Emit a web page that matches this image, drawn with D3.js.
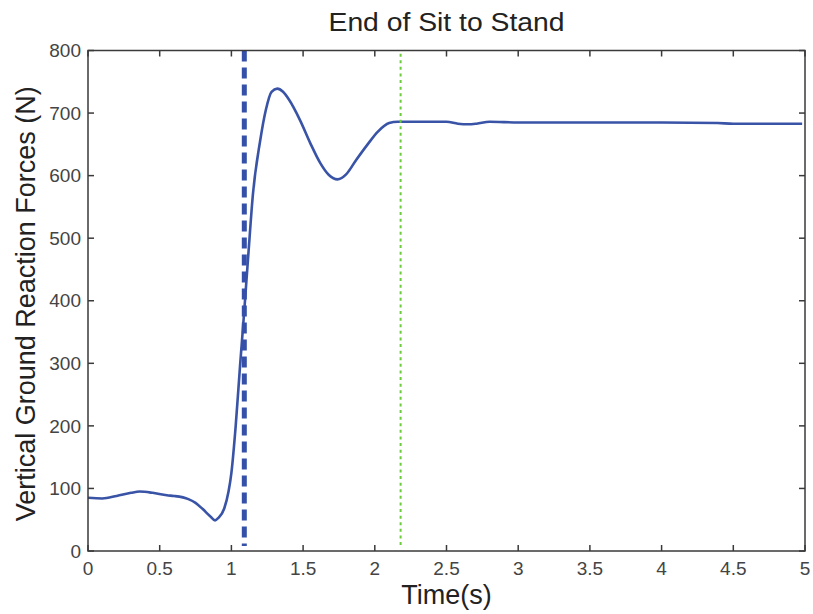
<!DOCTYPE html>
<html>
<head>
<meta charset="utf-8">
<script src="https://cdn.jsdelivr.net/npm/d3@7"></script>
<style>
  body { margin: 0; background: #fff; }
  text { font-family: Arial, "Liberation Sans", Helvetica, sans-serif; }
</style>
</head>
<body>
<div id="chart"></div>
<script>
// Vertical ground reaction force trace
const timeSec = [0, 0.1, 0.2, 0.3, 0.36, 0.45, 0.55, 0.6, 0.7, 0.75, 0.8, 0.85, 0.886, 0.91, 0.95,
    0.98, 1.0, 1.03, 1.06, 1.09, 1.12, 1.15, 1.2, 1.24, 1.28, 1.32, 1.36, 1.4, 1.48,
    1.55, 1.62, 1.68, 1.74, 1.8, 1.87, 1.95, 2.02, 2.1, 2.16, 2.5, 2.58, 2.65, 2.71, 2.8,
    3.0, 3.5, 4.0, 4.39, 4.5, 4.98];
const forceN = [85, 84, 88, 93, 95, 93, 89, 88, 83, 77, 67, 56, 49, 53, 68,
    95, 125, 200, 295, 385, 480, 570, 655, 705, 734, 739, 734, 722, 688,
    652, 620, 601, 594, 602, 625, 650, 670, 684, 686, 686, 683, 682, 683, 686,
    685, 685, 685, 684, 683, 683];

// event markers
const seatOffTime = 1.09;   // dashed blue
const standEndTime = 2.18;  // dotted green

const xTicks = [0, 0.5, 1, 1.5, 2, 2.5, 3, 3.5, 4, 4.5, 5];
const yTicks = [0, 100, 200, 300, 400, 500, 600, 700, 800];

const width = 813, height = 614;
const margin = {left: 88, right: 8, top: 50.5, bottom: 63};

const svg = d3.select("#chart").append("svg")
    .attr("width", width)
    .attr("height", height);

const x = d3.scaleLinear().domain([0, 5]).range([margin.left, width - margin.right]);
const y = d3.scaleLinear().domain([0, 800]).range([height - margin.bottom, margin.top]);

const axisColor = "#3a3a3a";
const labelColor = "#444";

// Title
svg.append("text")
    .attr("x", (x(0) + x(5)) / 2)
    .attr("y", 31)
    .attr("text-anchor", "middle")
    .attr("textLength", 236)
    .attr("lengthAdjust", "spacingAndGlyphs")
    .style("font-size", "26px")
    .style("fill", "#222")
    .text("End of Sit to Stand");

// Data line
const line = d3.line()
    .x((d, i) => x(timeSec[i]))
    .y(d => y(d))
    .curve(d3.curveMonotoneX);

svg.append("path")
    .datum(forceN)
    .attr("d", line)
    .attr("fill", "none")
    .attr("stroke", "#3953a6")
    .attr("stroke-width", 2.6);

// Event lines
svg.append("line")
    .attr("x1", x(seatOffTime)).attr("x2", x(seatOffTime))
    .attr("y1", y(800)).attr("y2", y(8))
    .attr("stroke", "#3550a8")
    .attr("stroke-width", 5)
    .attr("stroke-dasharray", "11,6");

svg.append("line")
    .attr("x1", x(standEndTime)).attr("x2", x(standEndTime))
    .attr("y1", y(795)).attr("y2", y(4))
    .attr("stroke", "#6ccb3a")
    .attr("stroke-width", 2)
    .attr("stroke-dasharray", "3,3.6");

// Box and ticks (MATLAB style, ticks pointing inward on all four sides)
const tickLen = 6;
const axes = svg.append("g")
    .attr("stroke", axisColor)
    .attr("stroke-width", 1.5);

axes.append("rect")
    .attr("x", x(0)).attr("y", y(800))
    .attr("width", x(5) - x(0)).attr("height", y(0) - y(800))
    .attr("fill", "none");

xTicks.forEach(t => {
    axes.append("line")
        .attr("x1", x(t)).attr("x2", x(t))
        .attr("y1", y(0)).attr("y2", y(0) - tickLen);
    axes.append("line")
        .attr("x1", x(t)).attr("x2", x(t))
        .attr("y1", y(800)).attr("y2", y(800) + tickLen);
});
yTicks.forEach(v => {
    axes.append("line")
        .attr("x1", x(0)).attr("x2", x(0) + tickLen)
        .attr("y1", y(v)).attr("y2", y(v));
    axes.append("line")
        .attr("x1", x(5)).attr("x2", x(5) - tickLen)
        .attr("y1", y(v)).attr("y2", y(v));
});

// Tick labels
svg.append("g").selectAll("text")
    .data(xTicks)
    .enter().append("text")
    .attr("x", d => x(d))
    .attr("y", y(0) + 24)
    .attr("text-anchor", "middle")
    .style("font-size", "19px")
    .style("fill", labelColor)
    .text(d => d);

svg.append("g").selectAll("text")
    .data(yTicks)
    .enter().append("text")
    .attr("x", x(0) - 7)
    .attr("y", d => y(d))
    .attr("dy", "0.35em")
    .attr("text-anchor", "end")
    .style("font-size", "19px")
    .style("fill", labelColor)
    .text(d => d);

// Axis labels
svg.append("text")
    .attr("x", (x(0) + x(5)) / 2)
    .attr("y", 604)
    .attr("text-anchor", "middle")
    .style("font-size", "27px")
    .style("fill", "#222")
    .text("Time(s)");

svg.append("text")
    .attr("transform", `translate(35, ${(y(0) + y(800)) / 2 + 3}) rotate(-90)`)
    .attr("text-anchor", "middle")
    .style("font-size", "27px")
    .style("fill", "#222")
    .text("Vertical Ground Reaction Forces (N)");
</script>
</body>
</html>
